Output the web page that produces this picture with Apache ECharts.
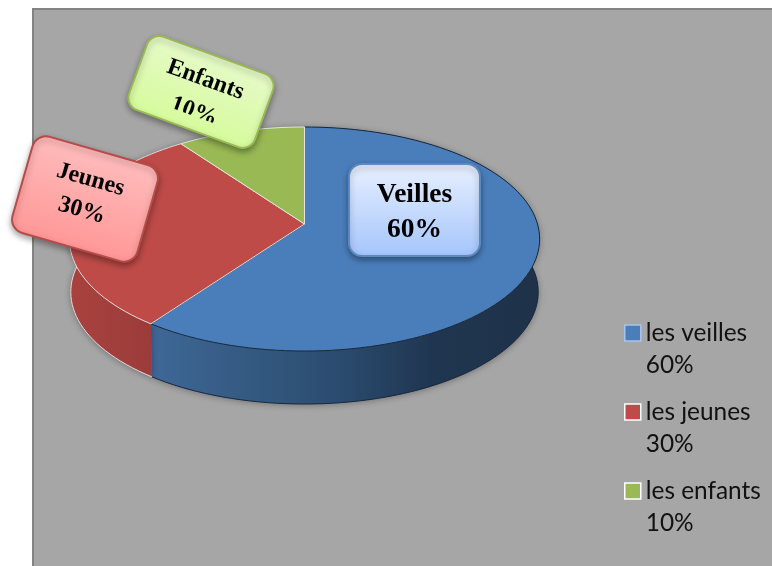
<!DOCTYPE html>
<html><head><meta charset="utf-8">
<style>html,body{margin:0;padding:0;background:#fff}#c{width:772px;height:566px}</style>
<script src="https://cdn.jsdelivr.net/npm/echarts@6/dist/echarts.min.js"></script>
</head><body><div id="c"></div>
<script>
const categories = ['les veilles', 'les jeunes', 'les enfants'];
const shares = [60, 30, 10];
const calloutTitles = ['Veilles', 'Jeunes', 'Enfants'];

const topColors = ['#4a7ebb', '#be4b48', '#98b954'];
const legendBorders = ['#a9c4ea', '#ffffff', '#ffffff'];
const rimColors = ['#16283d', '#e4d9d9', '#e4e4e0'];
const wallColors = [
  [[0,'#3f6897'],[0.28,'#33587f'],[0.5,'#2a4a6d'],[0.72,'#203650'],[1,'#1e3249']],
  [[0,'#a9423f'],[1,'#963a38']],
  [[0,'#7c9a42'],[1,'#7c9a42']]
];
const callouts = [
  {x:414.5,y:210,w:131,h:92,r:13,rot:0,fs:27.5,y1:-15,y2:20,border:'#5b89c1',c0:'#e8f0ff',c1:'#a4c5fb',clip:null},
  {x:85,y:199,w:130,h:100,r:14,rot:16,fs:24,y1:-20,y2:12,border:'#b84a47',c0:'#ffbcbc',c1:'#ff9797',clip:null},
  {x:201,y:92,w:134,h:78,r:13,rot:20,fs:24,y1:-13,y2:21,border:'#98b954',c0:'#e6fac8',c1:'#d6fb9c',clip:25}
];

// perspective projection of the pie disc
const CX = 304.5, CY = 224, A = 233, B = 110, K = 0.134, DEPTH = 53;
function project(deg, lower) {
  const t = deg * Math.PI / 180, u = Math.sin(t), v = -Math.cos(t), w = 1 - K * v;
  const x = CX + A * u / w, y = CY + B * v / w;
  return lower ? [CX + (x - CX) * 0.994, y + DEPTH] : [x, y];
}
function arc(a0, a1, lower) {
  const n = Math.max(2, Math.ceil(Math.abs(a1 - a0) / 2)), p = [];
  for (let i = 0; i <= n; i++) p.push(project(a0 + (a1 - a0) * i / n, lower));
  return p;
}
const total = shares.reduce((s, v) => s + v, 0);

function sliceRender(idx) {
  return function (params, api) {
    const val = api.value(0);
    let before = 0;
    for (let i = 0; i < idx; i++) before += shares[i];
    const a0 = before / total * 360, a1 = (before + val) / total * 360;
    const top = arc(a0, a1, false);
    const low = arc(a0, a1, true);
    const c = callouts[idx];
    const rad = -c.rot * Math.PI / 180;
    const pctText = { type: 'text', z2: 11, x: 0, y: c.y2,
      style: { text: val + '%', fill: '#000', align: 'center', verticalAlign: 'middle',
               font: 'bold ' + c.fs + 'px "Liberation Serif"' } };
    const pctNode = c.clip === null ? pctText : { type: 'group',
      clipPath: { type: 'rect', shape: { x: -100, y: -100, width: 200, height: 100 + c.clip } },
      children: [pctText] };
    const children = [
      { type: 'polygon', z2: 1,
        shape: { points: top.concat(low.slice().reverse()) },
        style: { fill: { type: 'linear', x: 0, y: 0, x2: 1, y2: 0,
                   colorStops: wallColors[idx].map(s => ({ offset: s[0], color: s[1] })) },
                 stroke: null, shadowBlur: 7, shadowColor: 'rgba(0,0,0,0.35)', shadowOffsetY: 1 } },
      { type: 'polyline', z2: 2, shape: { points: low },
        style: { fill: null, stroke: rimColors[idx], lineWidth: 1 } },
      { type: 'polygon', z2: 3,
        shape: { points: [[CX, CY]].concat(top) },
        style: { fill: topColors[idx], stroke: rimColors[idx], lineWidth: 1 } },
      { type: 'group', x: c.x, y: c.y, rotation: rad, z2: 10, children: [
        { type: 'rect', z2: 10,
          shape: { x: -c.w / 2, y: -c.h / 2, width: c.w, height: c.h, r: c.r },
          style: { fill: { type: 'linear', x: 0, y: 0, x2: 0, y2: 1,
                     colorStops: [{ offset: 0, color: c.c0 }, { offset: 1, color: c.c1 }] },
                   stroke: c.border, lineWidth: 2,
                   shadowBlur: 6, shadowColor: 'rgba(0,0,0,0.35)', shadowOffsetY: 3 } },
        { type: 'text', z2: 11, x: 0, y: c.y1,
          style: { text: calloutTitles[idx], fill: '#000', align: 'center', verticalAlign: 'middle',
                   font: 'bold ' + c.fs + 'px "Liberation Serif"' } },
        pctNode
      ] }
    ];
    return { type: 'group', children };
  };
}

const chart = echarts.init(document.getElementById('c'), null, { renderer: 'canvas' });
chart.setOption({
  animation: false,
  backgroundColor: '#ffffff',
  graphic: [{ type: 'rect', z: -10, silent: true,
    shape: { x: 33, y: 9, width: 800, height: 600 },
    style: { fill: '#a6a6a6', stroke: '#838383', lineWidth: 2 } }],
  legend: {
    orient: 'vertical', left: 624, top: 285, padding: 0, height: 281,
    itemWidth: 16, itemHeight: 16, itemGap: -17,
    icon: 'rect', selectedMode: false,
    data: categories.map((n, i) => ({ name: n, itemStyle: { borderColor: legendBorders[i], borderWidth: 1.5 } })),
    formatter: n => '\n' + n + '\n' + shares[categories.indexOf(n)] + '%',
    textStyle: { fontFamily: 'Lato', fontSize: 24.4, color: '#111', lineHeight: 32 }
  },
  series: categories.map((n, i) => ({
    type: 'custom', name: n, coordinateSystem: 'none', silent: true,
    itemStyle: { color: topColors[i] },
    data: [[shares[i]]],
    renderItem: sliceRender(i),
    clip: false
  }))
});
</script></body></html>
